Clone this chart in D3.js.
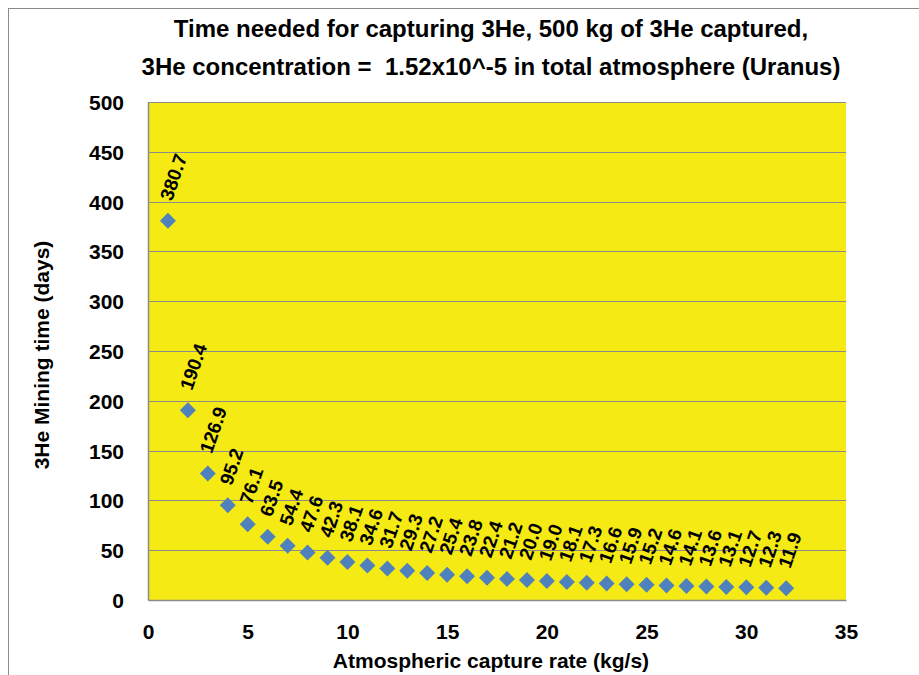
<!DOCTYPE html>
<html><head><meta charset="utf-8">
<script src="https://cdn.jsdelivr.net/npm/d3@7/dist/d3.min.js"></script>
<style>body{margin:0;background:#fff}svg{display:block}text{font-family:"Liberation Sans",Arial,sans-serif;font-weight:bold;fill:#000}</style>
</head><body>
<script>
const titleLines = ["Time needed for capturing 3He, 500 kg of 3He captured,",
                    "3He concentration =  1.52x10^-5 in total atmosphere (Uranus)"];
const xTitle = "Atmospheric capture rate (kg/s)";
const yTitle = "3He Mining time (days)";
const captureRate = d3.range(1, 33);
const miningDays = [380.7,190.4,126.9,95.2,76.1,63.5,54.4,47.6,42.3,38.1,34.6,31.7,29.3,27.2,25.4,23.8,
                    22.4,21.2,20.0,19.0,18.1,17.3,16.6,15.9,15.2,14.6,14.1,13.6,13.1,12.7,12.3,11.9];
const xTicks = [0,5,10,15,20,25,30,35];
const yTicks = [0,50,100,150,200,250,300,350,400,450,500];

const W = 919, H = 675;
const svg = d3.select("body").append("svg").attr("width", W).attr("height", H);
svg.append("rect").attr("x", 8.5).attr("y", 8.5).attr("width", W).attr("height", H)
   .attr("fill", "#fff").attr("stroke", "#8a8a8a").attr("stroke-width", 1);

const L = 148, R = 846, T = 102, B = 600;
const x = d3.scaleLinear().domain([0, 35]).range([L, R]);
const y = d3.scaleLinear().domain([0, 500]).range([B, T]);

svg.append("rect").attr("x", L).attr("y", T).attr("width", R - L).attr("height", B - T).attr("fill", "#F5EA14");

// gridlines
svg.append("g").selectAll("line").data(yTicks.filter(d => d > 0)).join("line")
  .attr("x1", L).attr("x2", R).attr("y1", d => Math.round(y(d)) + 0.5).attr("y2", d => Math.round(y(d)) + 0.5)
  .attr("stroke", "#8c8c8c").attr("stroke-width", 1);

// axes
const yAxis = svg.append("g").attr("transform", `translate(${L},0)`)
  .call(d3.axisLeft(y).tickValues(yTicks).tickSize(0).tickPadding(24));
yAxis.select(".domain").attr("stroke", "#8c8c8c").attr("stroke-width", 1.5);
yAxis.selectAll("text").style("font-size", "21px").attr("dy", "0.36em");

const xAxis = svg.append("g").attr("transform", `translate(0,${B})`)
  .call(d3.axisBottom(x).tickValues(xTicks).tickSize(0).tickPadding(24));
xAxis.select(".domain").attr("stroke", "#8c8c8c").attr("stroke-width", 1.5);
xAxis.selectAll("text").style("font-size", "21px");

// points
const pts = captureRate.map((r, i) => ({r, v: miningDays[i]}));
svg.append("g").selectAll("path").data(pts).join("path")
  .attr("d", d3.symbol(d3.symbolSquare, 128))
  .attr("transform", d => `translate(${x(d.r)},${y(d.v)}) rotate(45)`)
  .attr("fill", "#4F81BD");

// labels
svg.append("g").selectAll("text").data(pts).join("text")
  .attr("transform", d => `translate(${x(d.r) + 4},${y(d.v) - 19}) rotate(-71)`)
  .style("font-size", "19px")
  .text(d => d3.format(".1f")(d.v));

// titles
svg.append("g").selectAll("text").data(titleLines).join("text")
  .attr("x", 491).attr("y", (d, i) => 37 + i * 38).attr("text-anchor", "middle")
  .style("font-size", "24px").style("white-space", "pre").text(d => d);

svg.append("text").attr("x", 491).attr("y", 668).attr("text-anchor", "middle")
  .style("font-size", "21px").text(xTitle);

svg.append("text").attr("transform", "translate(49,355) rotate(-90)").attr("text-anchor", "middle")
  .style("font-size", "21px").text(yTitle);
</script>
</body></html>
